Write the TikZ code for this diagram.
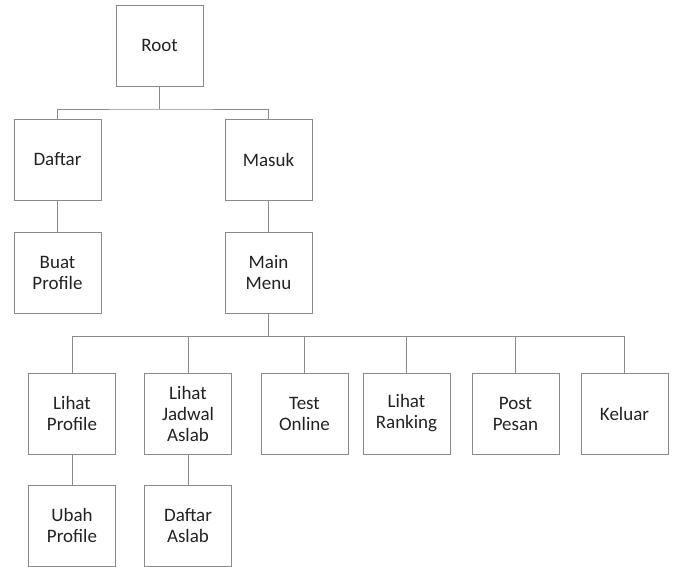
\documentclass[tikz,border=0pt]{standalone}
\usepackage{fontspec}
\setmainfont{Carlito}
\usepackage{tikz}
\usetikzlibrary{positioning, calc}
\definecolor{cLINE}{HTML}{8A8A8A}
\definecolor{cTEXT}{HTML}{222222}

\tikzset{
  menubox/.style={draw=cLINE, line width=0.9pt, minimum width=87pt, minimum height=81pt,
    inner sep=0pt, align=center, text=cTEXT, font=\fontsize{19}{21}\selectfont},
  wire/.style={draw=cLINE, line width=0.9pt}
}

\begin{document}
\begin{tikzpicture}[x=1pt, y=-1pt]
  \useasboundingbox (0,0) rectangle (673,567);

  % Top level
  \node[menubox] (root) at (159.5,45.5) {Root};

  % Second level
  \node[menubox] (daftar) at (57.5,159.5) {Daftar};
  \node[menubox] (masuk) at (268.5,159.5) {Masuk};
  \node[menubox] (buat) at (57.5,273) {Buat\\Profile};
  \node[menubox] (mainmenu) at (268.5,273) {Main\\Menu};

  % Menu items
  \node[menubox] (lihatprofile) at (72,413.5) {Lihat\\Profile};
  \node[menubox] (jadwal) at (188,413.5) {Lihat\\Jadwal\\Aslab};
  \node[menubox] (test) at (304.5,413.5) {Test\\Online};
  \node[menubox] (ranking) at (406.5,413.5) {Lihat\\Ranking};
  \node[menubox] (pesan) at (515.5,413.5) {Post\\Pesan};
  \node[menubox] (keluar) at (624.5,413.5) {Keluar};

  % Sub items
  \node[menubox] (ubah) at (72,525.5) {Ubah\\Profile};
  \node[menubox] (daftaraslab) at (188,525.5) {Daftar\\Aslab};

  % Buses
  \coordinate (busroot) at (159.5,109);
  \coordinate (busmenu) at (268.5,336);

  % Connectors
  \draw[wire] (root) -- (busroot);
  \draw[wire] (daftar.north) |- (busroot) -| (masuk.north);
  \draw[wire] (daftar) -- (buat);
  \draw[wire] (masuk) -- (mainmenu);
  \draw[wire] (mainmenu) -- (busmenu);
  \foreach \item in {lihatprofile, jadwal, test, ranking, pesan, keluar}
    \draw[wire] (busmenu) -| (\item.north);
  \draw[wire] (lihatprofile) -- (ubah);
  \draw[wire] (jadwal) -- (daftaraslab);
\end{tikzpicture}
\end{document}
